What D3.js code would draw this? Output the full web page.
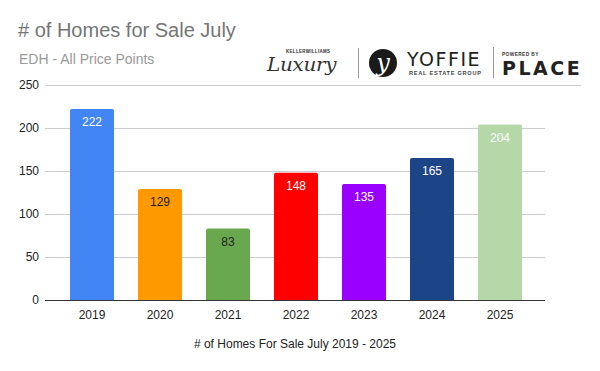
<!DOCTYPE html>
<html>
<head>
<meta charset="utf-8">
<script src="https://d3js.org/d3.v7.min.js"></script>
<style>
  body { margin: 0; background: #fff; }
</style>
</head>
<body>
<div id="chart"></div>
<script>
// data
var years = ["2019", "2020", "2021", "2022", "2023", "2024", "2025"];
var homes = [222, 129, 83, 148, 135, 165, 204];
var barColors = ["#4285f4", "#ff9900", "#6aa84f", "#ff0000", "#9900ff", "#1c4587", "#b6d7a8"];
var labelColors = ["#fff", "#222", "#222", "#fff", "#fff", "#fff", "#fff"];
var yTicks = [0, 50, 100, 150, 200, 250];

var W = 600, H = 371;
var FONT = "'Liberation Sans', Arial, sans-serif";
var svg = d3.select("#chart").append("svg")
  .attr("width", W).attr("height", H)
  .attr("font-family", FONT);

// plot box
var plotL = 45, plotR = 545, plotT = 85, plotB = 300;

var x = d3.scaleBand()
  .domain(years)
  .range([58, 534])
  .paddingInner(0.353)
  .paddingOuter(0.1765);

var y = d3.scaleLinear()
  .domain([0, 250])
  .range([plotB, plotT]);

// titles
svg.append("text").attr("x", 18).attr("y", 37)
  .attr("font-size", 20).attr("fill", "#757575")
  .text("# of Homes for Sale July");
svg.append("text").attr("x", 19).attr("y", 64)
  .attr("font-size", 14).attr("fill", "#999999")
  .text("EDH - All Price Points");

// gridlines
svg.append("g").selectAll("line")
  .data(yTicks.filter(function(d) { return d > 0; }))
  .enter().append("line")
    .attr("x1", plotL).attr("x2", plotR)
    .attr("y1", function(d) { return y(d) + 0.5; })
    .attr("y2", function(d) { return y(d) + 0.5; })
    .attr("stroke", "#cccccc");

// logo strip (drawn as text)
var logo = svg.append("g");
logo.append("line").attr("x1", 262).attr("x2", 581).attr("y1", 85.5).attr("y2", 85.5)
  .attr("stroke", "#cccccc");
logo.append("text").attr("x", 286).attr("y", 53).attr("font-size", 4.5)
  .attr("font-weight", "bold").attr("fill", "#333").attr("letter-spacing", 0.3)
  .text("KELLERWILLIAMS");
logo.append("text").attr("x", 267).attr("y", 71).attr("font-size", 20)
  .attr("font-family", "'DejaVu Serif'").attr("font-style", "italic")
  .attr("fill", "#333").attr("letter-spacing", -0.3)
  .attr("transform", "translate(267,71) scale(1,0.9) translate(-267,-71)")
  .text("Luxury");
logo.append("line").attr("x1", 358.5).attr("x2", 358.5).attr("y1", 48).attr("y2", 78)
  .attr("stroke", "#999");
logo.append("circle").attr("cx", 383).attr("cy", 63).attr("r", 14).attr("fill", "#1a1a1a");
logo.append("text").attr("x", 383).attr("y", 71).attr("text-anchor", "middle")
  .attr("font-size", 24).attr("font-family", "'DejaVu Serif'").attr("font-style", "italic")
  .attr("fill", "#fff").text("y");
logo.append("text").attr("x", 407).attr("y", 66).attr("font-size", 19)
  .attr("font-family", "'DejaVu Sans'").attr("fill", "#222").attr("letter-spacing", 1.5)
  .text("YOFFIE");
logo.append("text").attr("x", 409).attr("y", 75).attr("font-size", 5.6)
  .attr("font-weight", "bold").attr("fill", "#444").attr("letter-spacing", 0.75)
  .text("REAL ESTATE GROUP");
logo.append("line").attr("x1", 493.5).attr("x2", 493.5).attr("y1", 47).attr("y2", 78)
  .attr("stroke", "#999");
logo.append("text").attr("x", 502).attr("y", 56).attr("font-size", 4.8)
  .attr("font-weight", "bold").attr("fill", "#333").attr("letter-spacing", 0.4)
  .text("POWERED BY");
logo.append("text").attr("x", 502).attr("y", 75).attr("font-size", 19)
  .attr("font-family", "'DejaVu Sans'").attr("font-weight", "bold")
  .attr("fill", "#222").attr("letter-spacing", 2.5)
  .text("PLACE");

// bars with slightly rounded tops
function barPath(d, i) {
  var x0 = x(years[i]), w = x.bandwidth(), y0 = y(d), r = 2;
  return "M" + x0 + "," + plotB +
    "V" + (y0 + r) + "Q" + x0 + "," + y0 + " " + (x0 + r) + "," + y0 +
    "H" + (x0 + w - r) + "Q" + (x0 + w) + "," + y0 + " " + (x0 + w) + "," + (y0 + r) +
    "V" + plotB + "Z";
}
svg.append("g").selectAll("path")
  .data(homes)
  .enter().append("path")
    .attr("d", barPath)
    .attr("fill", function(d, i) { return barColors[i]; });

// value labels
svg.append("g").selectAll("text")
  .data(homes)
  .enter().append("text")
    .attr("x", function(d, i) { return x(years[i]) + x.bandwidth() / 2; })
    .attr("y", function(d) { return y(d) + 17; })
    .attr("text-anchor", "middle")
    .attr("font-size", 12)
    .attr("fill", function(d, i) { return labelColors[i]; })
    .text(function(d) { return d; });

// y axis labels
var yAxis = svg.append("g")
  .attr("transform", "translate(" + plotL + ",0)")
  .call(d3.axisLeft(y).tickValues(yTicks).tickSize(0).tickPadding(6));
yAxis.attr("font-family", FONT).attr("font-size", 12);
yAxis.select(".domain").remove();
yAxis.selectAll("text").attr("fill", "#222");

// x axis
var xAxis = svg.append("g")
  .attr("transform", "translate(0," + plotB + ")")
  .call(d3.axisBottom(x).tickSize(0).tickPadding(10));
xAxis.attr("font-family", FONT).attr("font-size", 12);
xAxis.select(".domain").remove();
xAxis.selectAll("text").attr("fill", "#222");
svg.append("line").attr("x1", plotL).attr("x2", plotR)
  .attr("y1", plotB + 0.5).attr("y2", plotB + 0.5)
  .attr("stroke", "#333");

svg.append("text").attr("x", (plotL + plotR) / 2).attr("y", 348)
  .attr("text-anchor", "middle").attr("font-size", 12).attr("fill", "#222")
  .text("# of Homes For Sale July 2019 - 2025");
</script>
</body>
</html>
